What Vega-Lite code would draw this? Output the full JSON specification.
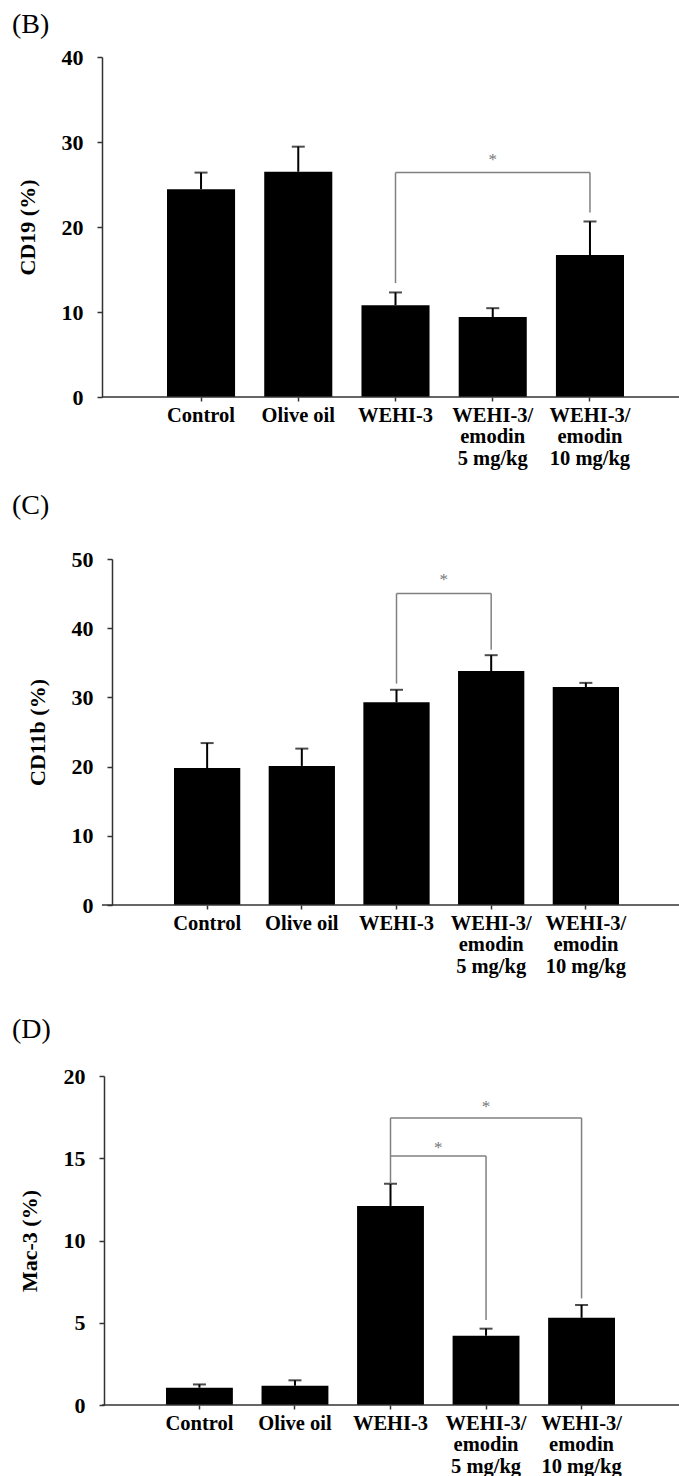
{
  "$schema": "https://vega.github.io/schema/vega-lite/v6.json",
  "background": "white",
  "padding": {"left": 12, "top": 11, "right": 0, "bottom": 0},
  "config": {
    "view": {"stroke": null},
    "axis": {
      "grid": false,
      "domainColor": "#333333",
      "domainWidth": 1.5,
      "tickColor": "#333333",
      "tickWidth": 1.5,
      "labelFont": "Liberation Serif",
      "labelFontWeight": "bold",
      "labelColor": "black",
      "titleFont": "Liberation Serif",
      "titleFontWeight": "bold",
      "titleColor": "black"
    },
    "axisX": {
      "domain": false,
      "tickSize": 4,
      "labelAngle": 0,
      "labelFontSize": 20.5,
      "labelLineHeight": 21.5,
      "labelPadding": 4,
      "labelLimit": 0,
      "title": null,
      "labelExpr": "split(replace(datum.label, 'WEHI-3/emodin ', 'WEHI-3/|emodin|'), '|')"
    },
    "axisY": {
      "tickSize": 5,
      "labelPadding": 14,
      "labelFontSize": 22,
      "titleFontSize": 22,
      "titlePadding": 22
    },
    "title": {
      "font": "Liberation Serif",
      "fontSize": 28,
      "fontWeight": "normal",
      "color": "black",
      "anchor": "start",
      "frame": "group",
      "baseline": "alphabetic",
      "dx": -90
    },
    "text": {"font": "Liberation Serif"}
  },
  "columns": 1,
  "align": "none",
  "spacing": 39,
  "concat": [
    {
      "columns": 1,
      "align": "none",
      "spacing": 23,
      "concat": [
        {
          "title": {"text": "(B)", "offset": 7},
          "width": 579,
          "height": 340,
          "layer": [
            {
              "data": {"values": [
                {"group": "Control", "mean": 24.45, "upper": 26.4},
                {"group": "Olive oil", "mean": 26.5, "upper": 29.45},
                {"group": "WEHI-3", "mean": 10.8, "upper": 12.3},
                {"group": "WEHI-3/emodin 5 mg/kg", "mean": 9.4, "upper": 10.45},
                {"group": "WEHI-3/emodin 10 mg/kg", "mean": 16.7, "upper": 20.65}
              ]},
              "layer": [
                {
                  "mark": {"type": "bar", "color": "black"},
                  "encoding": {
                    "x": {"field": "group", "type": "nominal", "scale": {"domain": ["Control", "Olive oil", "WEHI-3", "WEHI-3/emodin 5 mg/kg", "WEHI-3/emodin 10 mg/kg"], "range": [65, 522], "paddingInner": 0.3, "paddingOuter": 0}},
                    "y": {"field": "mean", "type": "quantitative", "scale": {"domain": [0, 40], "nice": false}, "axis": {"values": [0, 10, 20, 30, 40], "title": "CD19 (%)"}}
                  }
                },
                {
                  "mark": {"type": "rule", "color": "black", "strokeWidth": 2},
                  "encoding": {
                    "x": {"field": "group", "type": "nominal"},
                    "y": {"field": "mean", "type": "quantitative"},
                    "y2": {"field": "upper"}
                  }
                },
                {
                  "mark": {"type": "tick", "color": "black", "size": 13, "thickness": 2, "orient": "horizontal"},
                  "encoding": {
                    "x": {"field": "group", "type": "nominal"},
                    "y": {"field": "upper", "type": "quantitative"}
                  }
                }
              ]
            },
            {
              "data": {"values": [{"level": 0}]},
              "mark": {"type": "rule", "color": "#333333", "strokeWidth": 1.5},
              "encoding": {"y": {"field": "level", "type": "quantitative"}}
            },
            {
              "data": {"values": [{"from": "WEHI-3", "to": "WEHI-3/emodin 10 mg/kg", "level": 26.4}]},
              "mark": {"type": "rule", "color": "#808080", "strokeWidth": 1.5},
              "encoding": {
                "x": {"field": "from", "type": "nominal"},
                "x2": {"field": "to"},
                "y": {"field": "level", "type": "quantitative"}
              }
            },
            {
              "data": {"values": [
                {"group": "WEHI-3", "low": 13.4, "high": 26.4},
                {"group": "WEHI-3/emodin 10 mg/kg", "low": 21.7, "high": 26.4}
              ]},
              "mark": {"type": "rule", "color": "#808080", "strokeWidth": 1.5},
              "encoding": {
                "x": {"field": "group", "type": "nominal"},
                "y": {"field": "low", "type": "quantitative"},
                "y2": {"field": "high"}
              }
            },
            {
              "data": {"values": [{"group": "WEHI-3/emodin 5 mg/kg", "level": 28.4, "label": "*"}]},
              "mark": {"type": "text", "color": "#777777", "fontSize": 17, "baseline": "middle", "dy": 4},
              "encoding": {
                "x": {"field": "group", "type": "nominal"},
                "y": {"field": "level", "type": "quantitative"},
                "text": {"field": "label"}
              }
            }
          ]
        },
        {
          "title": {"text": "(C)", "offset": 28},
          "width": 579,
          "height": 346,
          "layer": [
            {
              "data": {"values": [
                {"group": "Control", "mean": 19.8, "upper": 23.4},
                {"group": "Olive oil", "mean": 20.1, "upper": 22.6},
                {"group": "WEHI-3", "mean": 29.3, "upper": 31.1},
                {"group": "WEHI-3/emodin 5 mg/kg", "mean": 33.8, "upper": 36.1},
                {"group": "WEHI-3/emodin 10 mg/kg", "mean": 31.5, "upper": 32.1}
              ]},
              "layer": [
                {
                  "mark": {"type": "bar", "color": "black"},
                  "encoding": {
                    "x": {"field": "group", "type": "nominal", "scale": {"domain": ["Control", "Olive oil", "WEHI-3", "WEHI-3/emodin 5 mg/kg", "WEHI-3/emodin 10 mg/kg"], "range": [72, 517], "paddingInner": 0.3, "paddingOuter": 0}},
                    "y": {"field": "mean", "type": "quantitative", "scale": {"domain": [0, 50], "nice": false}, "axis": {"values": [0, 10, 20, 30, 40, 50], "title": "CD11b (%)", "offset": -10}}
                  }
                },
                {
                  "mark": {"type": "rule", "color": "black", "strokeWidth": 2},
                  "encoding": {
                    "x": {"field": "group", "type": "nominal"},
                    "y": {"field": "mean", "type": "quantitative"},
                    "y2": {"field": "upper"}
                  }
                },
                {
                  "mark": {"type": "tick", "color": "black", "size": 13, "thickness": 2, "orient": "horizontal"},
                  "encoding": {
                    "x": {"field": "group", "type": "nominal"},
                    "y": {"field": "upper", "type": "quantitative"}
                  }
                }
              ]
            },
            {
              "data": {"values": [{"level": 0}]},
              "mark": {"type": "rule", "color": "#333333", "strokeWidth": 1.5},
              "encoding": {"y": {"field": "level", "type": "quantitative"}}
            },
            {
              "data": {"values": [{"from": "WEHI-3", "to": "WEHI-3/emodin 5 mg/kg", "level": 45.0}]},
              "mark": {"type": "rule", "color": "#808080", "strokeWidth": 1.5},
              "encoding": {
                "x": {"field": "from", "type": "nominal"},
                "x2": {"field": "to"},
                "y": {"field": "level", "type": "quantitative"}
              }
            },
            {
              "data": {"values": [
                {"group": "WEHI-3", "low": 32.0, "high": 45.0},
                {"group": "WEHI-3/emodin 5 mg/kg", "low": 36.9, "high": 45.0}
              ]},
              "mark": {"type": "rule", "color": "#808080", "strokeWidth": 1.5},
              "encoding": {
                "x": {"field": "group", "type": "nominal"},
                "y": {"field": "low", "type": "quantitative"},
                "y2": {"field": "high"}
              }
            },
            {
              "data": {"values": [{"group": "WEHI-3", "level": 47.5, "label": "*"}]},
              "mark": {"type": "text", "color": "#777777", "fontSize": 17, "baseline": "middle", "dy": 4},
              "encoding": {
                "x": {"field": "group", "type": "nominal", "bandPosition": 1.214},
                "y": {"field": "level", "type": "quantitative"},
                "text": {"field": "label"}
              }
            }
          ]
        }
      ]
    },
    {
      "title": {"text": "(D)", "offset": 21},
      "width": 579,
      "height": 329,
      "layer": [
        {
          "data": {"values": [
            {"group": "Control", "mean": 1.05, "upper": 1.25},
            {"group": "Olive oil", "mean": 1.17, "upper": 1.5},
            {"group": "WEHI-3", "mean": 12.1, "upper": 13.45},
            {"group": "WEHI-3/emodin 5 mg/kg", "mean": 4.21, "upper": 4.64},
            {"group": "WEHI-3/emodin 10 mg/kg", "mean": 5.3, "upper": 6.08}
          ]},
          "layer": [
            {
              "mark": {"type": "bar", "color": "black"},
              "encoding": {
                "x": {"field": "group", "type": "nominal", "scale": {"domain": ["Control", "Olive oil", "WEHI-3", "WEHI-3/emodin 5 mg/kg", "WEHI-3/emodin 10 mg/kg"], "range": [64, 513], "paddingInner": 0.3, "paddingOuter": 0}},
                "y": {"field": "mean", "type": "quantitative", "scale": {"domain": [0, 20], "nice": false}, "axis": {"values": [0, 5, 10, 15, 20], "title": "Mac-3 (%)", "offset": -2}}
              }
            },
            {
              "mark": {"type": "rule", "color": "black", "strokeWidth": 2},
              "encoding": {
                "x": {"field": "group", "type": "nominal"},
                "y": {"field": "mean", "type": "quantitative"},
                "y2": {"field": "upper"}
              }
            },
            {
              "mark": {"type": "tick", "color": "black", "size": 13, "thickness": 2, "orient": "horizontal"},
              "encoding": {
                "x": {"field": "group", "type": "nominal"},
                "y": {"field": "upper", "type": "quantitative"}
              }
            }
          ]
        },
        {
          "data": {"values": [{"level": 0}]},
          "mark": {"type": "rule", "color": "#333333", "strokeWidth": 1.5},
          "encoding": {"y": {"field": "level", "type": "quantitative"}}
        },
        {
          "data": {"values": [
            {"from": "WEHI-3", "to": "WEHI-3/emodin 10 mg/kg", "level": 17.45},
            {"from": "WEHI-3", "to": "WEHI-3/emodin 5 mg/kg", "level": 15.14}
          ]},
          "mark": {"type": "rule", "color": "#808080", "strokeWidth": 1.5},
          "encoding": {
            "x": {"field": "from", "type": "nominal"},
            "x2": {"field": "to"},
            "y": {"field": "level", "type": "quantitative"}
          }
        },
        {
          "data": {"values": [
            {"group": "WEHI-3", "low": 13.45, "high": 17.45},
            {"group": "WEHI-3/emodin 5 mg/kg", "low": 5.17, "high": 15.14},
            {"group": "WEHI-3/emodin 10 mg/kg", "low": 6.48, "high": 17.45}
          ]},
          "mark": {"type": "rule", "color": "#808080", "strokeWidth": 1.5},
          "encoding": {
            "x": {"field": "group", "type": "nominal"},
            "y": {"field": "low", "type": "quantitative"},
            "y2": {"field": "high"}
          }
        },
        {
          "data": {"values": [{"group": "WEHI-3/emodin 5 mg/kg", "level": 18.33, "label": "*"}]},
          "mark": {"type": "text", "color": "#777777", "fontSize": 17, "baseline": "middle", "dy": 4},
          "encoding": {
            "x": {"field": "group", "type": "nominal"},
            "y": {"field": "level", "type": "quantitative"},
            "text": {"field": "label"}
          }
        },
        {
          "data": {"values": [{"group": "WEHI-3", "level": 15.87, "label": "*"}]},
          "mark": {"type": "text", "color": "#777777", "fontSize": 17, "baseline": "middle", "dy": 4},
          "encoding": {
            "x": {"field": "group", "type": "nominal", "bandPosition": 1.214},
            "y": {"field": "level", "type": "quantitative"},
            "text": {"field": "label"}
          }
        }
      ]
    }
  ]
}
